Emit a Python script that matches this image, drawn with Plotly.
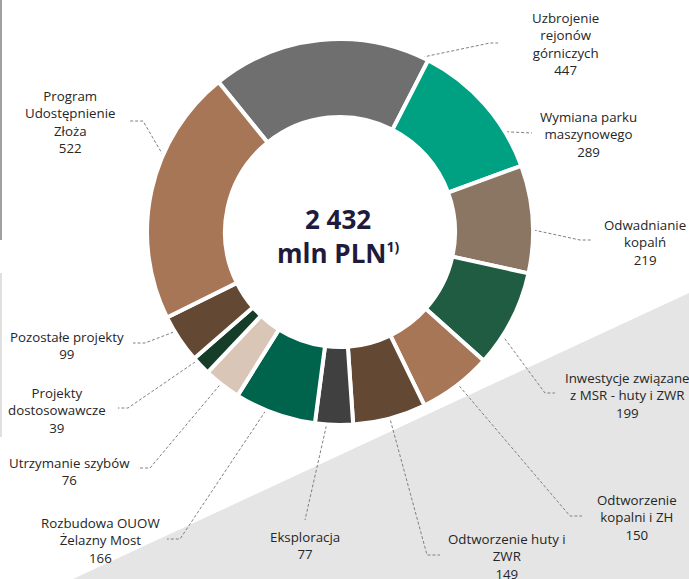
import math
import plotly.graph_objects as go

# data
labels = [
    "Uzbrojenie<br>rejonów<br>górniczych",
    "Wymiana parku<br>maszynowego",
    "Odwadnianie<br>kopalń",
    "Inwestycje związane<br>z MSR - huty i ZWR",
    "Odtworzenie<br>kopalni i ZH",
    "Odtworzenie huty i<br>ZWR",
    "Eksploracja",
    "Rozbudowa OUOW<br>Żelazny Most",
    "Utrzymanie szybów",
    "Projekty<br>dostosowawcze",
    "Pozostałe projekty",
    "Program<br>Udostępnienie<br>Złoża",
]
values = [447, 289, 219, 199, 150, 149, 77, 166, 76, 39, 99, 522]
colors = ["#6f6f6f", "#00a182", "#8a7662", "#1f5c41", "#a67656", "#634834",
          "#404040", "#00634c", "#dac6b6", "#153d28", "#634834", "#a67656"]
total_text = "2 432"

# layout (pixels)
W, H = 689, 579
CX, CY, R = 340, 232, 193
ROT = -39

# label block centres and leader line waypoints (elbow, end)
label_pos = [(565, 44), (588, 134), (645, 242), (627, 395), (637, 517), (507, 556),
             (305, 545), (100, 540), (69, 471), (57, 410), (67, 345), (70, 122)]
leader_pts = [
    [(490, 43), (498, 43)],
    [(532, 133)],
    [(580, 240), (592, 240)],
    [(545, 393), (555, 393)],
    [(570, 516), (582, 516)],
    [(427, 555), (440, 555)],
    [(305, 520)],
    [(180, 539), (167, 539)],
    [(150, 468), (138, 468)],
    [(128, 408), (118, 408)],
    [(145, 343), (133, 343)],
    [(143, 121), (130, 121)],
]

fig = go.Figure()

fig.add_trace(go.Pie(
    values=values,
    labels=[l.replace("<br>", " ") for l in labels],
    sort=False,
    direction="clockwise",
    rotation=ROT,
    hole=0.596,
    marker=dict(colors=colors, line=dict(color="white", width=4)),
    textinfo="none",
    hoverinfo="label+value",
    showlegend=False,
    domain=dict(x=[(CX - R) / W, (CX + R) / W], y=[(H - CY - R) / H, (H - CY + R) / H]),
))

# leader lines from slice middles
tot = sum(values)
cum = 0
for i, v in enumerate(values):
    mid = math.radians(ROT + (cum + v / 2) / tot * 360)
    cum += v
    sx = CX + 155 * math.sin(mid)
    sy = CY - 155 * math.cos(mid)
    xs = [sx] + [p[0] for p in leader_pts[i]]
    ys = [sy] + [p[1] for p in leader_pts[i]]
    fig.add_trace(go.Scatter(
        x=xs, y=ys, mode="lines",
        line=dict(color="#808080", width=1, dash="3px,2px"),
        hoverinfo="skip", showlegend=False,
    ))
    lx, ly = label_pos[i]
    fig.add_annotation(
        x=lx, y=ly, xref="x", yref="y",
        text=f"{labels[i]}<br>{v}",
        showarrow=False, align="center",
        xanchor="center", yanchor="middle",
        font=dict(family="Open Sans", size=13.3, color="#262626"),
    )

# centre total
fig.add_annotation(
    x=CX - 2, y=CY + 4, xref="x", yref="y",
    text=f"<b>{total_text}<br>mln PLN<sup><span style='font-size:14px'>1)</span></sup></b>",
    showarrow=False, align="center",
    font=dict(family="Open Sans", size=26, color="#201a3d"),
)

# background triangle and left edge lines
fig.add_shape(type="path", xref="x", yref="y", layer="below",
              path="M 73 579 L 689 293 L 689 579 Z",
              fillcolor="#e5e5e5", line=dict(width=0))
fig.add_shape(type="line", xref="x", yref="y", layer="below",
              x0=1, x1=1, y0=0, y1=240, line=dict(color="#a0a0a0", width=2))
fig.add_shape(type="line", xref="x", yref="y", layer="below",
              x0=1, x1=1, y0=273, y1=437, line=dict(color="#e0e0e0", width=2))

fig.update_layout(
    width=W, height=H,
    margin=dict(l=0, r=0, t=0, b=0),
    paper_bgcolor="white", plot_bgcolor="rgba(0,0,0,0)",
    xaxis=dict(range=[0, W], visible=False, fixedrange=True),
    yaxis=dict(range=[H, 0], visible=False, fixedrange=True),
)

fig.write_html(
    "out.html",
    config={"displayModeBar": False},
    post_script="document.body.style.margin='0';document.body.style.overflow='hidden';",
)
